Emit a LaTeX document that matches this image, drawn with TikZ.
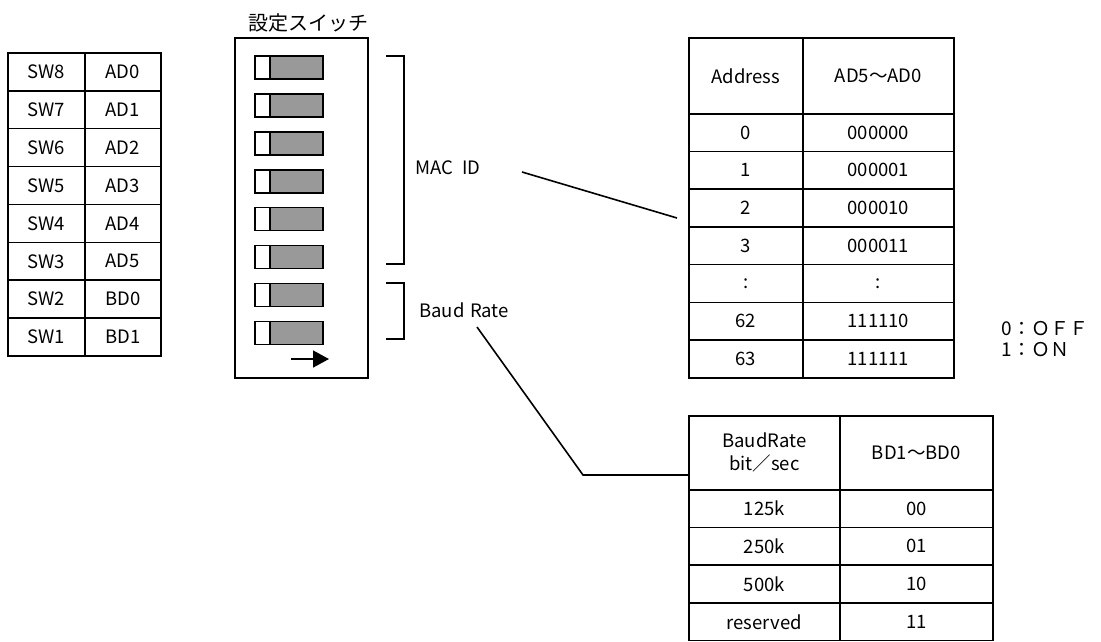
\documentclass[tikz,border=0pt]{standalone}
\usepackage{fontspec}
\setmainfont{Noto Sans CJK JP}
\usetikzlibrary{arrows.meta,positioning}

\tikzset{
  cell/.style={draw, line width=1.6pt, anchor=north west, inner sep=0pt, align=center},
  knob/.style={draw, line width=1.6pt, anchor=west, inner sep=0pt, minimum height=23pt},
  lead/.style={line width=1.6pt},
}

\begin{document}
\begin{tikzpicture}[x=1pt, y=-1pt, every node/.style={font=\fontsize{18.5}{23}\selectfont}]
\useasboundingbox (0,0) rectangle (1101,641);

% Switch assignment
\foreach \sw/\ad [count=\i from 0] in {SW8/AD0,SW7/AD1,SW6/AD2,SW5/AD3,SW4/AD4,SW3/AD5,SW2/BD0,SW1/BD1} {
  \node[cell, minimum width=77pt, minimum height=37.9pt] (sw\i) at (7, 52+37.9*\i) {\sw};
  \node[cell, minimum width=76pt, minimum height=37.9pt] (ad\i) at (84, 52+37.9*\i) {\ad};
}

% DIP switch
\node[cell, minimum width=133pt, minimum height=340pt] (dip) at (234,37) {};
\node[above=1pt of dip, xshift=7pt, font=\fontsize{20}{24}\selectfont] (diptitle) {設定スイッチ};
\foreach \i in {0,...,7} {
  \node[knob, fill=black!40, minimum width=68pt] (kg\i) at (254, 67.5+37.9*\i) {};
  \node[knob, fill=white, minimum width=15pt] (kw\i) at (254, 67.5+37.9*\i) {};
}
\coordinate (arrS) at (291,359);
\coordinate (arrE) at (329,359);
\draw[lead, -{Triangle[length=16pt, width=17pt]}] (arrS) -- (arrE);

% Brackets and labels
\draw[lead] (386,56) -- (404,56) -- (404,264) -- (386,264);
\draw[lead] (386,283) -- (404,283) -- (404,339) -- (386,339);
\node (macid) at (448,168) {MAC\hspace{0.45em}ID};
\node (baud) at (464,310) {Baud\hspace{0.3em}Rate};

% Address table
\node[cell, minimum width=114pt, minimum height=76pt] (ah0) at (688,37) {Address};
\node[cell, minimum width=151pt, minimum height=76pt] (ah1) at (802,37) {AD5～AD0};
\foreach \a/\b [count=\i from 0] in {0/000000,1/000001,2/000010,3/000011,:/:,62/111110,63/111111} {
  \node[cell, minimum width=114pt, minimum height=37.7pt] (aa\i) at (688, 113+37.7*\i) {\a};
  \node[cell, minimum width=151pt, minimum height=37.7pt] (ab\i) at (802, 113+37.7*\i) {\b};
}

% Baud rate table
\node[cell, minimum width=151pt, minimum height=74pt] (bh0) at (688,415) {BaudRate\\bit／sec};
\node[cell, minimum width=153pt, minimum height=74pt] (bh1) at (839,415) {BD1～BD0};
\foreach \a/\b [count=\i from 0] in {125k/00,250k/01,500k/10,reserved/11} {
  \node[cell, minimum width=151pt, minimum height=37.7pt] (ba\i) at (688, 489+37.7*\i) {\a};
  \node[cell, minimum width=153pt, minimum height=37.7pt] (bb\i) at (839, 489+37.7*\i) {\b};
}

% Leaders
\coordinate (macA) at (522,172);
\coordinate (macB) at (677,218);
\draw[lead] (macA) -- (macB);
\coordinate (brA) at (477,327);
\coordinate (brB) at (583,475);
\draw[lead] (brA) -- (brB) -- (brB -| bh0.west);

% Legend
\node[anchor=west, align=left, font=\fontsize{19}{21}\selectfont] (legend) at (998,339) {0：ＯＦＦ\\1：ＯＮ};
\end{tikzpicture}
\end{document}
